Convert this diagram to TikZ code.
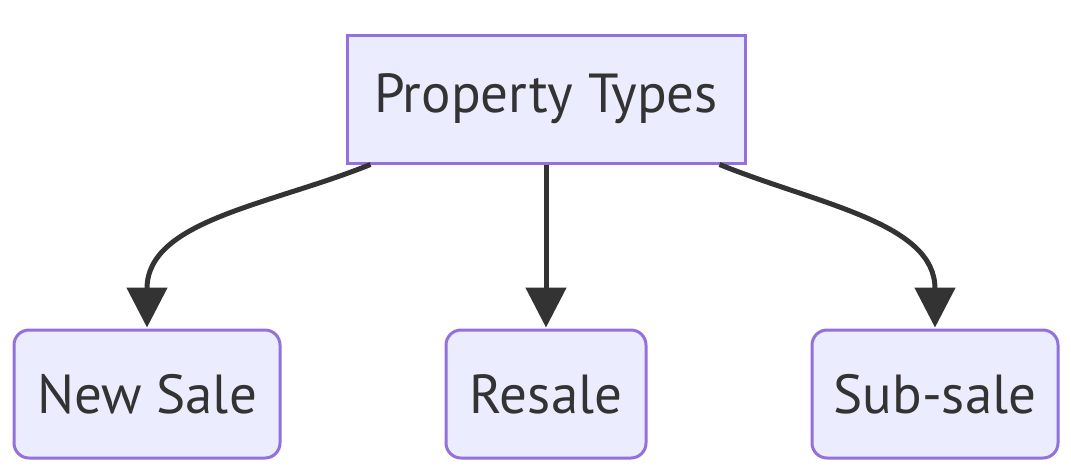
\documentclass[tikz,border=0pt]{standalone}
\usepackage{fontspec}
\setmainfont{PT Sans}
\usepackage{xcolor}
\usepackage{tikz}
\usetikzlibrary{arrows.meta,positioning}
\definecolor{nodefill}{HTML}{ECECFF}
\definecolor{nodeline}{HTML}{9370DB}
\definecolor{ink}{HTML}{333333}

\begin{document}
\begin{tikzpicture}[
    x=1pt,y=1pt,
    box/.style={draw=nodeline,fill=nodefill,line width=3pt,minimum height=128pt,text=ink,font=\fontsize{55}{60}\selectfont},
    rootbox/.style={box,minimum width=398pt},
    leafbox/.style={box,rounded corners=15pt},
    arrow/.style={ink,line width=5pt,-{Triangle[length=40pt,width=40pt]},shorten >=1pt}
  ]
    \useasboundingbox (0,0) rectangle (1071,-472);
    \node[rootbox] (types) at (546,-99) {Property Types};
    \node[leafbox,minimum width=200pt,below=164pt of types] (resale) {Resale};
    \node[leafbox,minimum width=266pt,left=163pt of resale] (newsale) {New Sale};
    \node[leafbox,minimum width=246pt,right=163pt of resale] (subsale) {Sub-sale};
    \draw[arrow] ([xshift=25pt]types.south west) to[out=202,in=90] (newsale.north);
    \draw[arrow] (types) -- (resale);
    \draw[arrow] ([xshift=-27pt]types.south east) to[out=-22,in=90] (subsale.north);
  \end{tikzpicture}
\end{document}
